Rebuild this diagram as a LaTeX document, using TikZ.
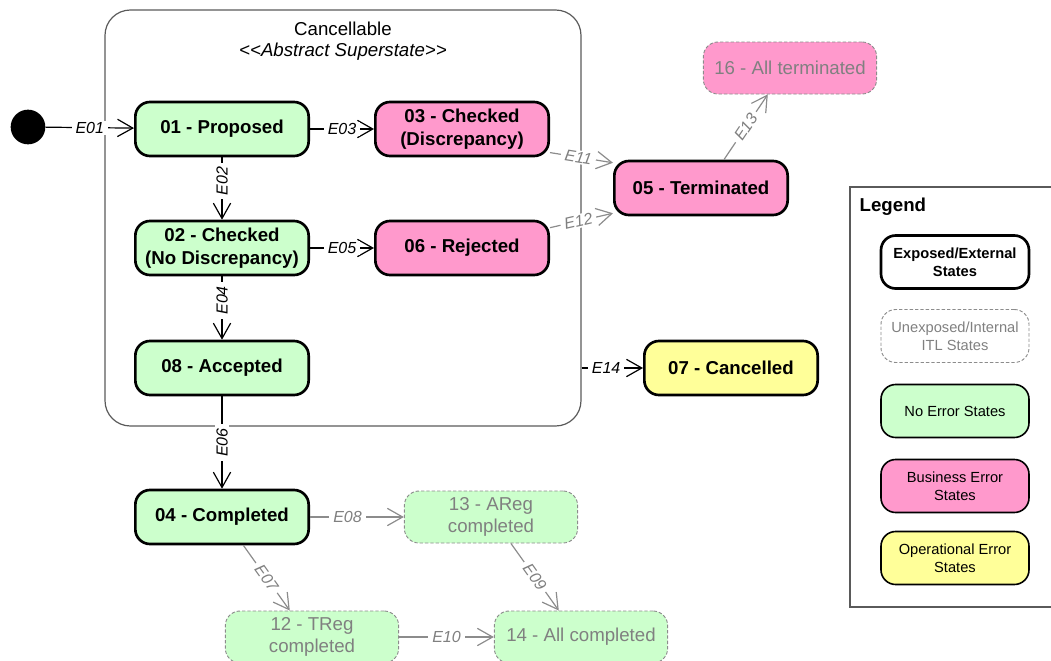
\documentclass[tikz,border=0pt]{standalone}
\usepackage{fontspec}
\setmainfont{Liberation Sans}
\usetikzlibrary{arrows.meta,calc}
\definecolor{okfill}{HTML}{CCFFCC}
\definecolor{bizfill}{HTML}{FF99CC}
\definecolor{opfill}{HTML}{FFFF99}
\definecolor{dimtext}{HTML}{808080}
\definecolor{dimline}{HTML}{8C8C8C}
\definecolor{framegray}{HTML}{5A5A5A}
\begin{document}
\begin{tikzpicture}[x=0.75pt,y=-0.75pt,
  state/.style={draw=black, line width=2pt, rounded corners=11pt,
    minimum width=130pt, minimum height=40.5pt, align=center, inner sep=2pt,
    font=\fontsize{14}{17}\selectfont\bfseries},
  hidden/.style={draw=dimline, dash pattern=on 2.5pt off 1.5pt, line width=0.7pt,
    rounded corners=11pt, minimum width=130pt, minimum height=39pt,
    align=center, inner sep=2pt, text=dimtext, font=\fontsize{14}{17}\selectfont},
  ok/.style={fill=okfill},
  biz/.style={fill=bizfill},
  op/.style={fill=opfill},
  trans/.style={draw=black, line width=0.9pt, -{Straight Barb[length=11.5pt,width=13pt]}},
  itrans/.style={trans, draw=dimline},
  ev/.style={fill=white, inner xsep=3pt, inner ysep=1pt, font=\fontsize{12}{14}\selectfont\itshape},
  iev/.style={ev, text=dimtext},
  key/.style={rounded corners=11pt, minimum width=111pt, minimum height=39.75pt,
    align=center, inner sep=2pt, font=\fontsize{11}{13.5}\selectfont},
]
\useasboundingbox (0,0) rectangle (1051,661);

% superstate frame and its heading
\node[draw=framegray, line width=0.9pt, rounded corners=19pt,
  minimum width=357pt, minimum height=312pt] (cancel) at (343,218) {};
\node[align=center, font=\fontsize{14}{16}\selectfont] (title) at (343,41)
  {Cancellable\\\textit{<\kern0pt<Abstract Superstate>\kern0pt>}};

% initial pseudo-state
\node[circle, fill=black, minimum size=26pt, inner sep=0pt] (start) at (28,127) {};

% states
\node[state,ok]   (n01) at (222,129) {01 - Proposed};
\node[state,ok]   (n02) at (222,248) {02 - Checked\\(No Discrepancy)};
\node[state,ok]   (n08) at (222,368) {08 - Accepted};
\node[state,biz]  (n03) at (462,129) {03 - Checked\\(Discrepancy)};
\node[state,biz]  (n06) at (462,248) {06 - Rejected};
\node[state,biz]  (n05) at (701,188) {05 - Terminated};
\node[hidden,biz] (n16) at (790,68)  {16 - All terminated};
\node[state,op]   (n07) at (731,368) {07 - Cancelled};
\node[state,ok]   (n04) at (222,517) {04 - Completed};
\node[hidden,ok]  (n13) at (491,517) {13 - AReg\\completed};
\node[hidden,ok]  (n12) at (312,637) {12 - TReg\\completed};
\node[hidden,ok]  (n14) at (581,637) {14 - All completed};

% transitions
\draw[trans] (start) -- node[ev]{E01} (n01);
\draw[trans] (n01) -- node[ev]{E03} (n03);
\draw[trans] (n01) -- node[ev,rotate=90,pos=0.38]{E02} (n02);
\draw[trans] (n02) -- node[ev]{E05} (n06);
\draw[trans] (n02) -- node[ev,rotate=90,pos=0.38]{E04} (n08);
\draw[trans] (n08) -- node[ev,rotate=90]{E06} (n04);
\draw[trans] (cancel.east |- n07.west) -- node[ev,pos=0.4]{E14} (n07);
\draw[itrans] (n03.-15) -- node[iev,sloped,pos=0.45]{E11} (n05.164);
\draw[itrans] (n06.13) -- node[iev,sloped,pos=0.45]{E12} (n05.196);
\draw[itrans] (n05.51) -- node[iev,sloped]{E13} (n16.230);
\draw[itrans] (n04) -- node[iev,pos=0.4]{E08} (n13);
\draw[itrans] (n04.-53) -- node[iev,sloped]{E07} (n12.130);
\draw[itrans] (n13.-53) -- node[iev,sloped]{E09} (n14.130);
\draw[itrans] (n12) -- node[iev]{E10} (n14);

% legend
\draw[framegray, line width=0.8pt] (1070,187) -- (850,187) -- (850,607) -- (1070,607);
\node[anchor=west, font=\fontsize{14}{17}\selectfont\bfseries] (legtitle) at (855,207) {Legend};
\node[key, draw=black, line width=2pt, font=\fontsize{11}{13.5}\selectfont\bfseries]
  (kexp) at (955,262) {Exposed/External\\States};
\node[key, draw=dimline, dash pattern=on 2.5pt off 1.5pt, line width=0.7pt, text=dimtext]
  (kint) at (955,336) {Unexposed/Internal\\ITL States};
\node[key, draw=black, line width=1.2pt, fill=okfill]  (kok)  at (955,411) {No Error States};
\node[key, draw=black, line width=1.2pt, fill=bizfill] (kbiz) at (955,486) {Business Error\\States};
\node[key, draw=black, line width=1.2pt, fill=opfill]  (kop)  at (955,558) {Operational Error\\States};
\end{tikzpicture}
\end{document}
